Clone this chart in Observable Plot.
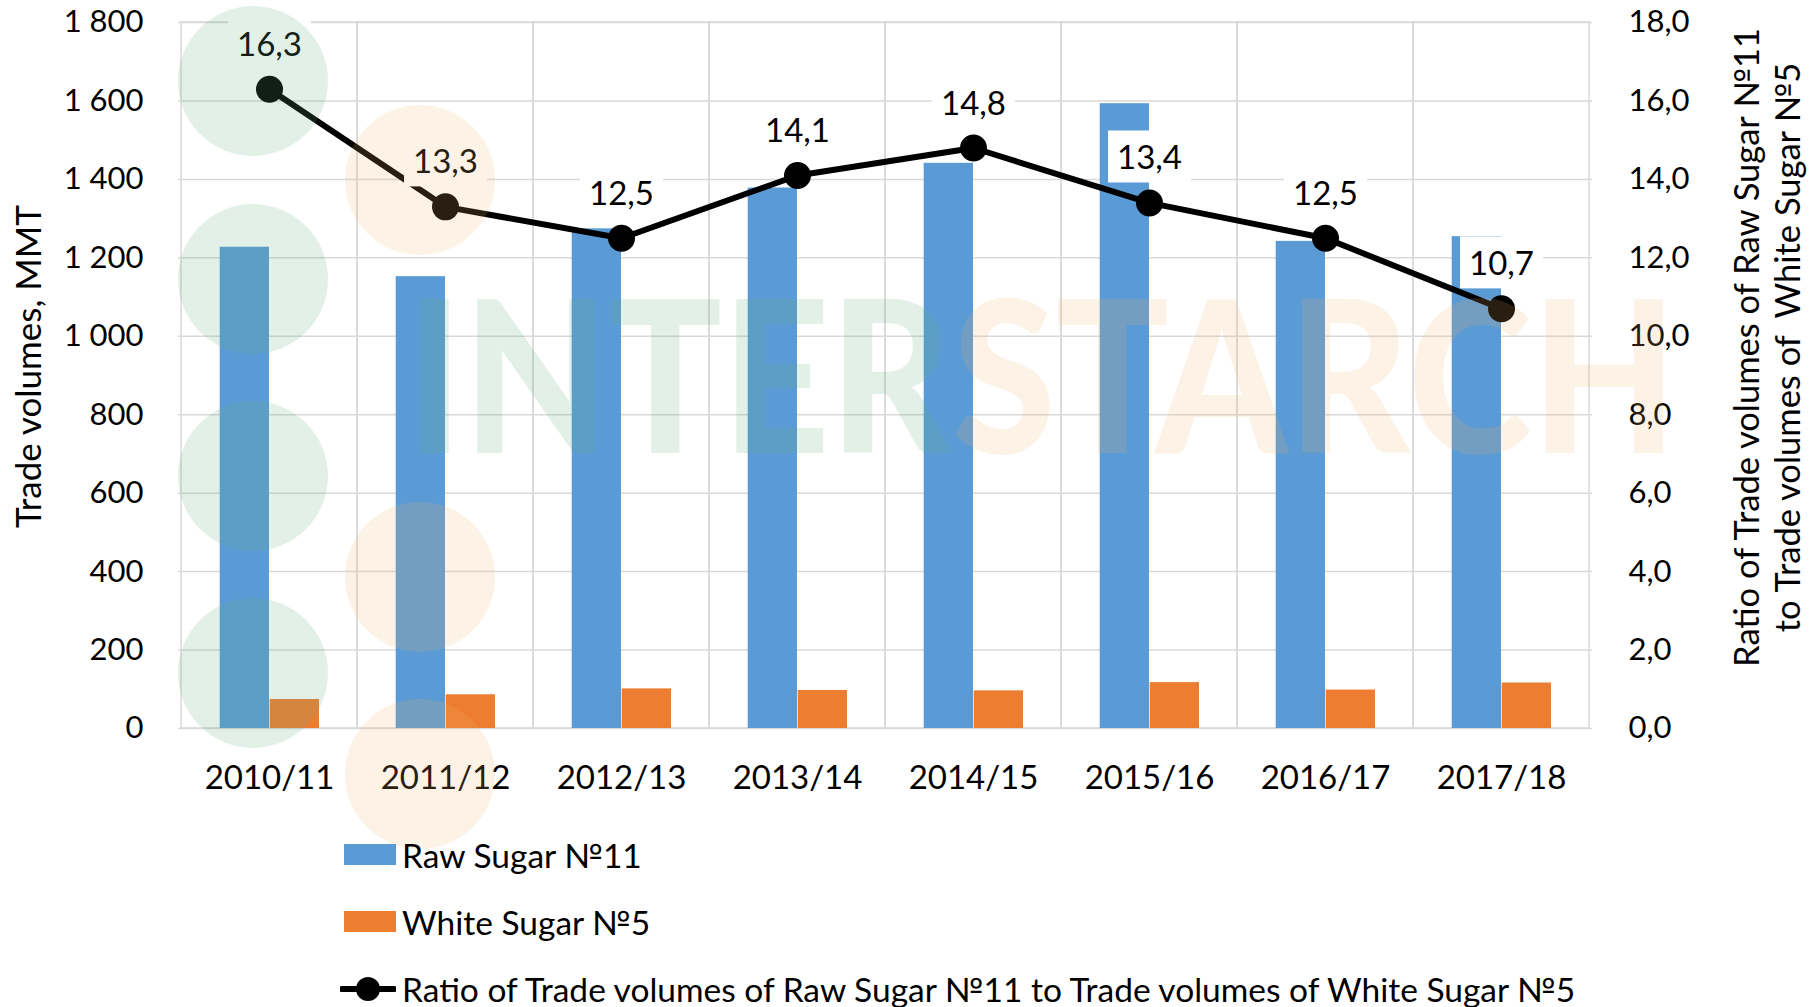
<!DOCTYPE html>
<html>
<head>
<meta charset="utf-8">
<script src="https://cdn.jsdelivr.net/npm/d3@7"></script>
<script src="https://cdn.jsdelivr.net/npm/@observablehq/plot@0.6"></script>
<style>
  html, body { margin: 0; padding: 0; background: #fff; }
  #wrap { position: relative; width: 1820px; height: 1007px; overflow: hidden; font-family: Lato, "Open Sans", sans-serif; color: #000; }
  #chart { position: absolute; left: 0; top: 0; }
  #legend { position: absolute; left: 344px; top: 821px; }
  .row { height: 67px; display: flex; align-items: center; font-size: 33.5px; white-space: nowrap; }
  .row svg { margin-right: 6px; }
  #wm { position: absolute; left: 0; top: 0; pointer-events: none; }
</style>
</head>
<body>
<div id="wrap">
  <div id="chart"></div>
  <svg id="wm" width="1820" height="1007"></svg>
  <div id="legend"></div>
</div>
<script>
const seasons = ["2010/11", "2011/12", "2012/13", "2013/14", "2014/15", "2015/16", "2016/17", "2017/18"];
const rawSugar = [1227, 1152, 1274, 1378, 1441, 1593, 1242, 1254];
const whiteSugar = [74, 86, 101, 97, 96, 117, 98, 116];
const ratio = [16.3, 13.3, 12.5, 14.1, 14.8, 13.4, 12.5, 10.7];
const leftTicks = [0, 200, 400, 600, 800, 1000, 1200, 1400, 1600, 1800];
const rightTicks = [0, 2, 4, 6, 8, 10, 12, 14, 16, 18];
const seriesNames = ["Raw Sugar №11", "White Sugar №5", "Ratio of Trade volumes of Raw Sugar №11 to Trade volumes of White Sugar №5"];
const leftTitle = "Trade volumes, MMT";
const rightTitle = "Ratio of Trade volumes of Raw Sugar №11\nto Trade volumes of  White Sugar №5";

const BLUE = "#5B9BD5", ORANGE = "#ED7D31", GRID = "#D9D9D9";
const K = 100; // ratio axis scale factor: 18 -> 1800

const data = seasons.map((s, i) => ({season: s, raw: rawSugar[i], white: whiteSugar[i], ratio: ratio[i]}));
const fmtLeft = d => d3.format(",")(d).replace(/,/g, " ");
const fmtRatio = v => d3.format(".1f")(v).replace(".", ",");

const chart = Plot.plot({
  width: 1820,
  height: 812,
  marginLeft: 178,
  marginRight: 228,
  marginTop: 22,
  marginBottom: 84,
  style: {fontFamily: "Lato, 'Open Sans', sans-serif", fontSize: "31px", color: "#000", background: "transparent"},
  x: {type: "band", domain: seasons, paddingInner: 0, paddingOuter: 0},
  y: {domain: [0, 1800]},
  marks: [
    Plot.gridY(leftTicks, {stroke: GRID, strokeOpacity: 1, strokeWidth: 1.5}),
    Plot.barY(seasons, {x: d => d, y1: 0, y2: 1800, fill: "none", stroke: GRID, strokeWidth: 1.5}),
    Plot.barY(data, {x: "season", y: "raw", fill: BLUE, insetLeft: 38.7, insetRight: 88}),
    Plot.barY(data, {x: "season", y: "white", fill: ORANGE, insetLeft: 88.7, insetRight: 38}),
    Plot.line(data, {x: "season", y: d => d.ratio * K, stroke: "#000", strokeWidth: 6}),
    Plot.dot(data, {x: "season", y: d => d.ratio * K, r: 13.5, fill: "#000"}),
    Plot.text(data, {x: "season", y: d => d.ratio * K, text: d => fmtRatio(d.ratio), dy: -44, fontSize: 33, fill: "#000", className: "lbl"}),
    Plot.axisY(leftTicks, {anchor: "left", tickSize: 0, tickPadding: 35, tickFormat: fmtLeft, label: null, fontSize: 31}),
    Plot.axisY(rightTicks.map(t => t * K), {anchor: "right", tickSize: 0, tickPadding: 36, tickFormat: d => fmtRatio(d / K), label: null, fontSize: 31}),
    Plot.axisX({anchor: "bottom", tickSize: 0, tickPadding: 37, label: null, fontSize: 33}),
    Plot.text([leftTitle], {frameAnchor: "left", textAnchor: "middle", lineAnchor: "middle", dx: -149, dy: -9, rotate: -90, text: d => d, fontSize: 35}),
    Plot.text([rightTitle], {frameAnchor: "right", textAnchor: "middle", lineAnchor: "middle", dx: 174, dy: -28, rotate: -90, text: d => d, fontSize: 34.5, lineHeight: 1.2})
  ]
});
document.getElementById("chart").appendChild(chart);

// white boxes behind ratio labels (Excel data-label style)
chart.querySelectorAll("g.lbl text").forEach(t => {
  const b = t.getBBox();
  const r = document.createElementNS("http://www.w3.org/2000/svg", "rect");
  r.setAttribute("x", b.x - 9);
  r.setAttribute("y", b.y - 6);
  r.setAttribute("width", b.width + 18);
  r.setAttribute("height", b.height + 12);
  r.setAttribute("fill", "#fff");
  const tr = t.getAttribute("transform");
  if (tr) r.setAttribute("transform", tr);
  t.parentNode.insertBefore(r, t);
});

// legend
const legend = document.getElementById("legend");
const sw = [
  `<svg width="52" height="21"><rect width="52" height="21" fill="${BLUE}"/></svg>`,
  `<svg width="52" height="21"><rect width="52" height="21" fill="${ORANGE}"/></svg>`,
  `<svg width="56" height="28"><line x1="2" y1="14" x2="54" y2="14" stroke="#000" stroke-width="6" stroke-linecap="round"/><circle cx="28" cy="14" r="12" fill="#000"/></svg>`
];
seriesNames.forEach((n, i) => {
  const row = document.createElement("div");
  row.className = "row";
  row.innerHTML = sw[i] + `<span>${n}</span>`;
  if (i === 2) row.style.marginLeft = "-4px";
  legend.appendChild(row);
});

// faint INTERSTARCH watermark
const wm = d3.select("#wm");
const green = "rgba(100,170,130,0.18)", orange = "rgba(240,180,100,0.17)";
[[253, 81], [253, 279], [253, 476], [253, 673]].forEach(([cx, cy]) => wm.append("circle").attr("cx", cx).attr("cy", cy).attr("r", 75).attr("fill", green));
[[420, 180], [420, 577], [420, 774]].forEach(([cx, cy]) => wm.append("circle").attr("cx", cx).attr("cy", cy).attr("r", 75).attr("fill", orange));
const wt = wm.append("text").attr("x", 406).attr("y", 453).attr("font-family", "Lato, sans-serif").attr("font-weight", 900).attr("font-size", 212)
  .attr("textLength", 1271).attr("lengthAdjust", "spacingAndGlyphs");
wt.append("tspan").attr("fill", green).text("INTER");
wt.append("tspan").attr("fill", orange).text("STARCH");
</script>
</body>
</html>
